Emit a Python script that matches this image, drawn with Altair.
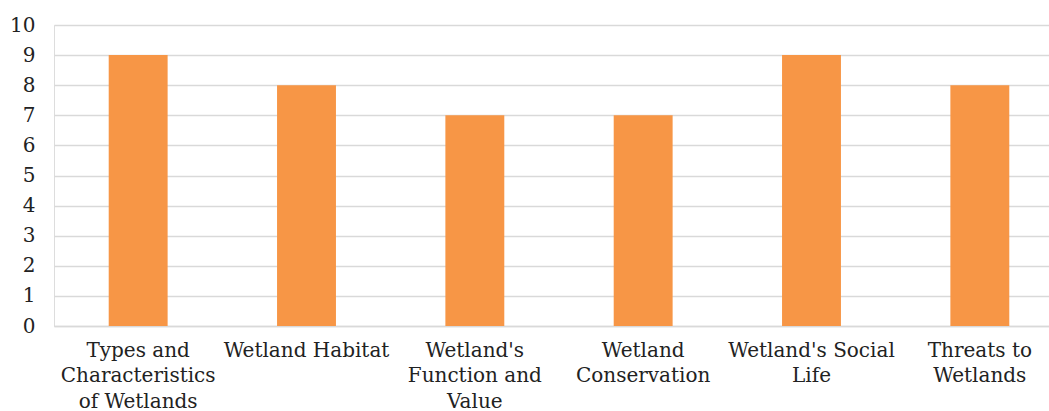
import altair as alt
import pandas as pd

categories = [
    "Types and|Characteristics|of Wetlands",
    "Wetland Habitat",
    "Wetland's|Function and|Value",
    "Wetland|Conservation",
    "Wetland's Social|Life",
    "Threats to|Wetlands",
]
values = [9, 8, 7, 7, 9, 8]
y_ticks = list(range(0, 11))

df = pd.DataFrame({"category": categories, "value": values})

FONT = "DejaVu Serif"

chart = alt.Chart(df).mark_bar(color="#F79646").encode(
    x=alt.X(
        "category:N",
        sort=categories,
        title=None,
        scale=alt.Scale(paddingInner=0.65, paddingOuter=0.325, range=[0, 1010]),
        axis=alt.Axis(
            labelExpr="split(datum.label, '|')",
            labelAngle=0,
            labelFont=FONT,
            labelFontSize=20,
            labelColor="#222222",
            labelLineHeight=25.5,
            labelPadding=14,
            ticks=False,
            domain=True,
            domainColor="#D9D9D9",
            domainWidth=1.5,
            labelLimit=400,
        ),
    ),
    y=alt.Y(
        "value:Q",
        title=None,
        scale=alt.Scale(domain=[0, 10], nice=False),
        axis=alt.Axis(
            values=y_ticks,
            labelFont=FONT,
            labelFontSize=20,
            labelColor="#222222",
            labelPadding=19,
            ticks=False,
            domain=False,
            grid=True,
            gridColor="#D9D9D9",
            gridWidth=1.5,
        ),
    ),
).properties(
    width=995,
    height=301,
    autosize=alt.AutoSizeParams(type="none"),
    padding={"left": 54, "top": 25, "right": 0, "bottom": 85},
).configure_view(stroke=None).configure(background="white")

chart.save("out.html", embed_options={"renderer": "svg", "actions": False})
